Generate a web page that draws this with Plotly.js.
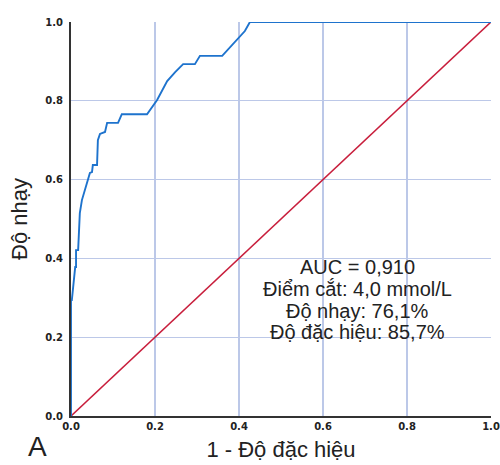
<!DOCTYPE html>
<html>
<head>
<meta charset="utf-8">
<script src="https://cdn.plot.ly/plotly-3.0.1.min.js"></script>
<style>html,body{margin:0;padding:0;background:#fff;}#chart{width:500px;height:465px;}</style>
</head>
<body>
<div id="chart"></div>
<script>
// ROC curve points (1 - specificity, sensitivity)
const fpr = [0, 0, 0.002, 0.005, 0.010, 0.012, 0.012, 0.017, 0.019, 0.021, 0.026, 0.033, 0.040, 0.045, 0.050, 0.052, 0.062, 0.064, 0.069, 0.081, 0.086, 0.112, 0.121, 0.181, 0.205, 0.212, 0.229, 0.248, 0.267, 0.295, 0.307, 0.360, 0.414, 0.426, 1.0];
const tpr = [0, 0.294, 0.294, 0.320, 0.378, 0.378, 0.421, 0.421, 0.490, 0.515, 0.548, 0.574, 0.599, 0.617, 0.619, 0.637, 0.637, 0.700, 0.716, 0.721, 0.744, 0.744, 0.766, 0.766, 0.802, 0.815, 0.850, 0.873, 0.893, 0.893, 0.914, 0.914, 0.977, 1.0, 1.0];
const refX = [0, 1];
const refY = [0, 1];
const tickVals = [0, 0.2, 0.4, 0.6, 0.8, 1.0];
const tickText = ["0.0", "0.2", "0.4", "0.6", "0.8", "1.0"];
const statsLines = ["AUC = 0,910", "Điểm cắt: 4,0 mmol/L", "Độ nhạy: 76,1%", "Độ đặc hiệu: 85,7%"];
const statsY = [0.378, 0.322, 0.266, 0.213];
const xTitle = "1 - Độ đặc hiệu";
const yTitle = "Độ nhạy";
const panelLabel = "A";

const traces = [
  {x: refX, y: refY, mode: "lines", line: {color: "rgb(200,30,60)", width: 1.6}, hoverinfo: "skip"},
  {x: fpr, y: tpr, mode: "lines", line: {color: "rgb(30,115,205)", width: 1.9}, hoverinfo: "skip"}
];

const axisCommon = {
  range: [0, 1],
  tickvals: tickVals,
  ticktext: tickText,
  showgrid: true,
  gridcolor: "rgb(188,200,232)",
  gridwidth: 1.3,
  zeroline: false,
  ticks: "",
  tickfont: {family: "DejaVu Sans", size: 10, color: "#222", weight: "bold"},
  fixedrange: true
};

const annotations = statsLines.map((t, i) => ({
  x: 0.683, y: statsY[i], xref: "x", yref: "y", text: t, showarrow: false,
  xanchor: "center", yanchor: "middle",
  font: {family: "Liberation Sans", size: 20, color: "#222"}
}));
annotations.push({x: -0.079, y: -0.078, xref: "paper", yref: "paper", text: panelLabel, showarrow: false,
  xanchor: "center", yanchor: "middle",
  font: {family: "Liberation Sans", size: 28, color: "#222"}});

const layout = {
  width: 500, height: 465,
  margin: {l: 71, r: 9, t: 22, b: 49},
  paper_bgcolor: "#fff",
  plot_bgcolor: "#fff",
  showlegend: false,
  xaxis: Object.assign({}, axisCommon, {
    showline: true, linecolor: "#333", linewidth: 2,
    title: {text: xTitle, font: {family: "Liberation Sans", size: 22, color: "#222"}, standoff: 11}
  }),
  yaxis: Object.assign({}, axisCommon, {
    showline: true, linecolor: "#333", linewidth: 2, ticklabelstandoff: 4,
    title: {text: yTitle, font: {family: "Liberation Sans", size: 22, color: "#222"}, standoff: 12}
  }),
  annotations: annotations
};

Plotly.newPlot("chart", traces, layout, {staticPlot: true});
</script>
</body>
</html>
